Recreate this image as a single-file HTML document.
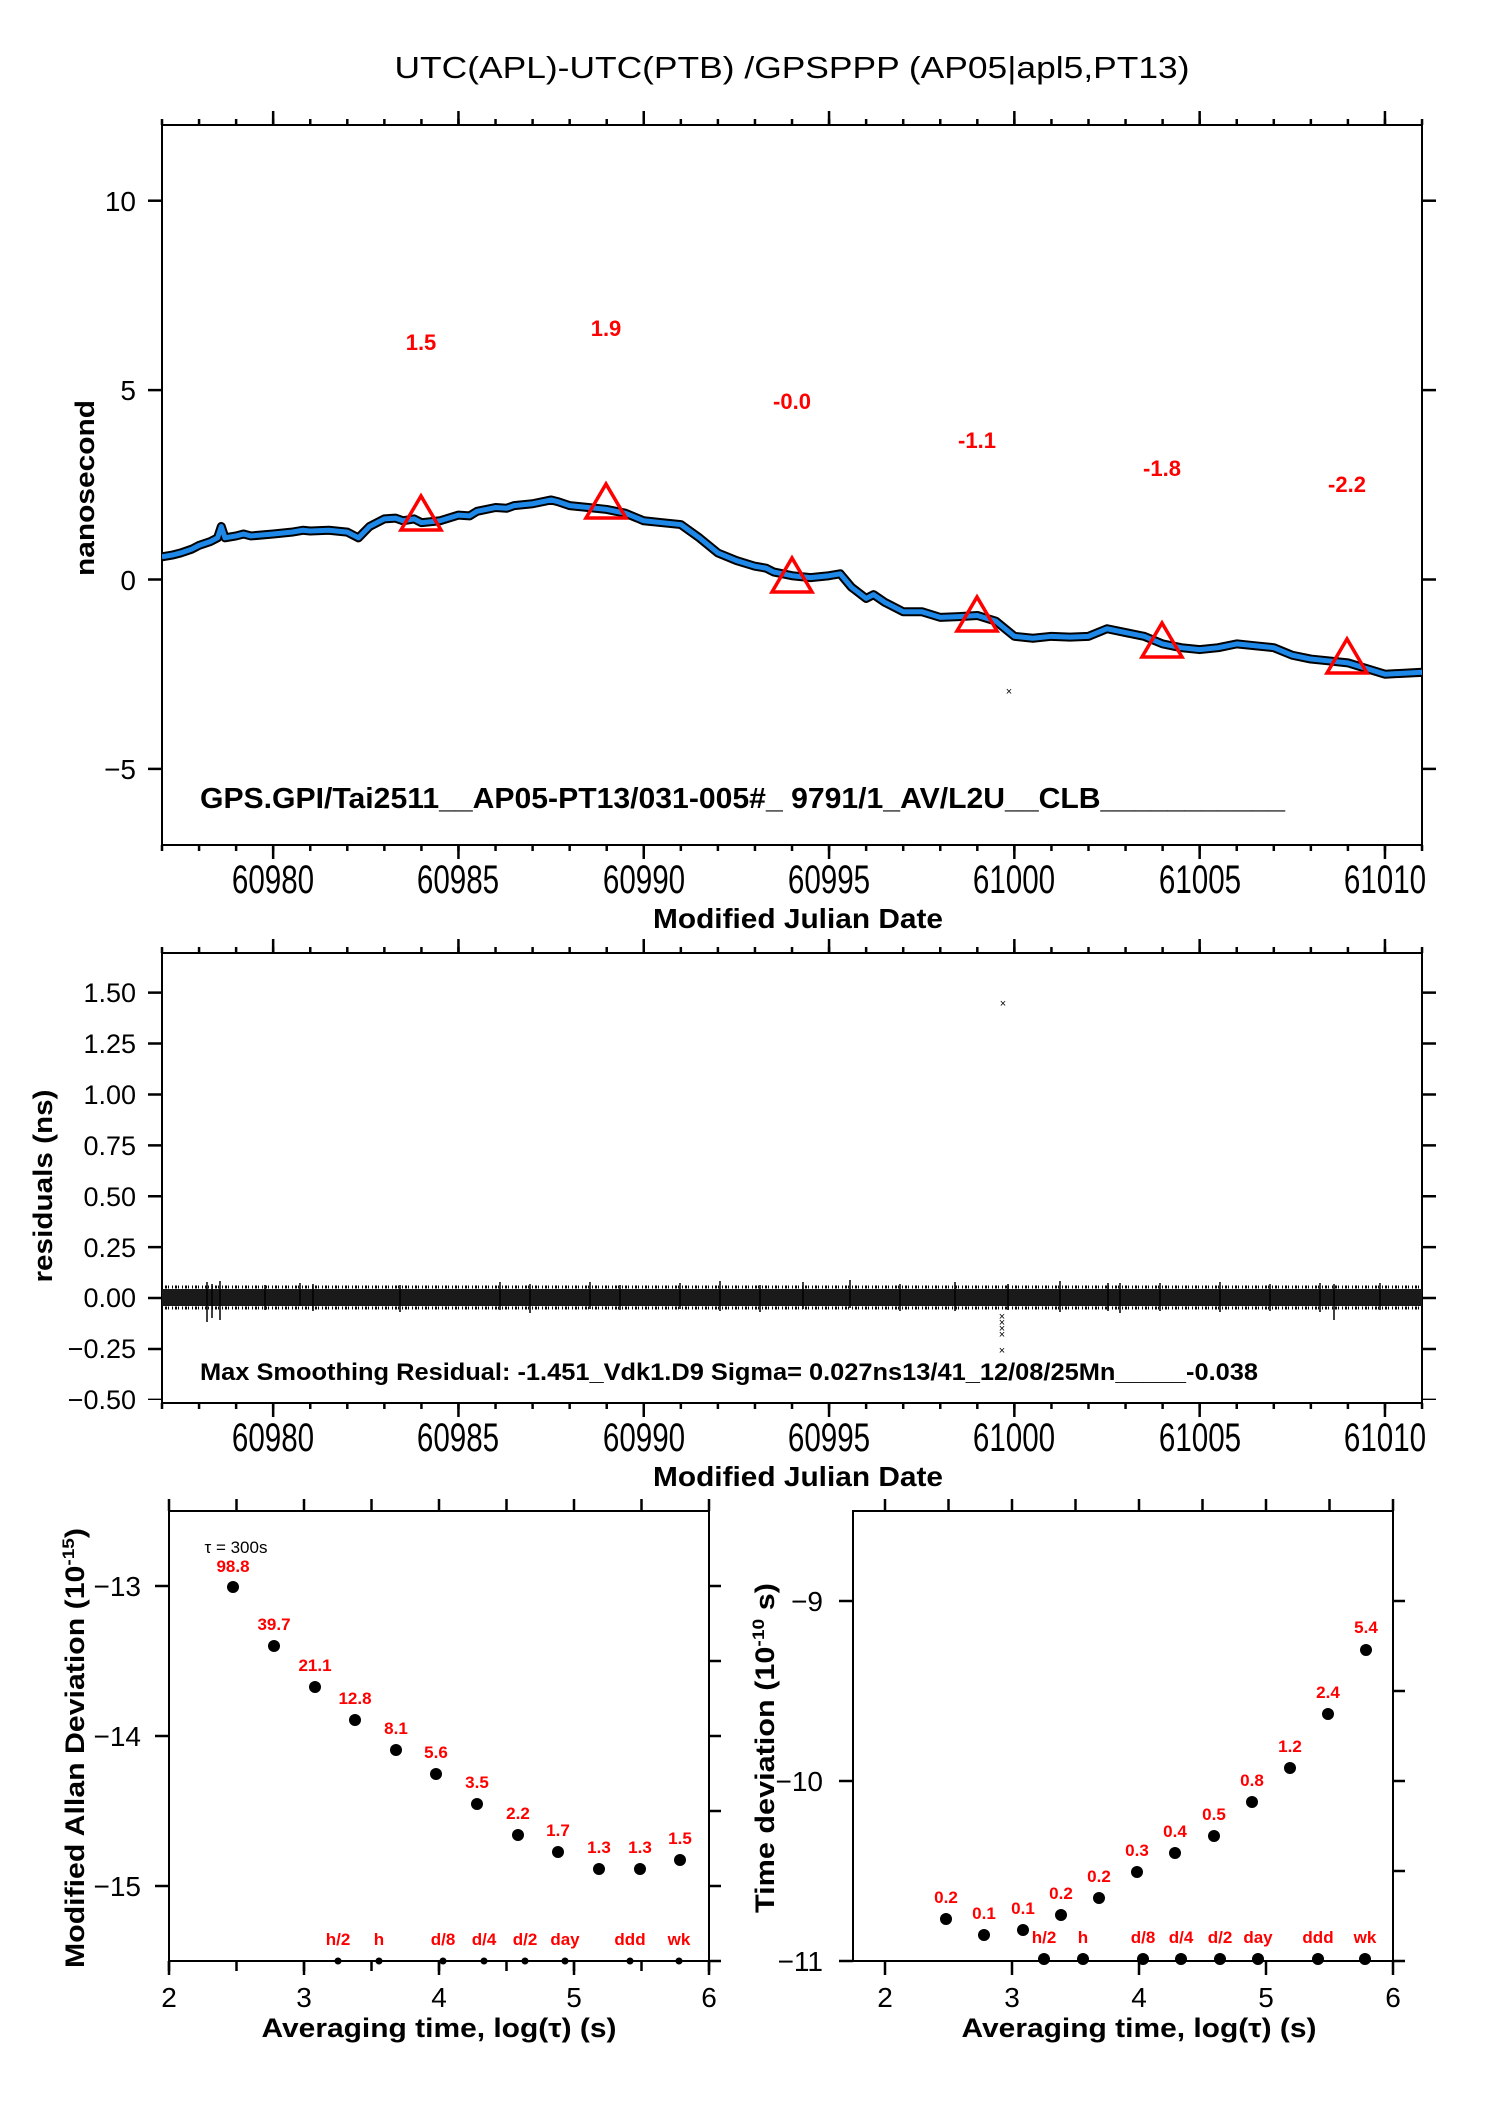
<!DOCTYPE html>
<html><head><meta charset="utf-8"><style>
html,body{margin:0;padding:0;background:#fff}
svg{display:block}
text{font-family:"Liberation Sans",sans-serif}
.b{font-weight:bold}
.r{fill:#ff0000;font-weight:bold}
</style></head><body>
<svg width="1488" height="2105" viewBox="0 0 1488 2105" xmlns="http://www.w3.org/2000/svg">
<rect width="1488" height="2105" fill="#fff"/>

<text x="792" y="78" font-size="31" text-anchor="middle" textLength="795" lengthAdjust="spacingAndGlyphs">UTC(APL)-UTC(PTB)  /GPSPPP  (AP05|apl5,PT13)</text>

<defs>
<clipPath id="c1"><rect x="162" y="125" width="1260" height="720"/></clipPath>
<clipPath id="c2"><rect x="162" y="953" width="1260" height="450"/></clipPath>
</defs>
<rect x="162" y="125" width="1260" height="720" fill="none" stroke="#000" stroke-width="2"/>
<line x1="160.75" y1="122" x2="1424" y2="122" stroke="#000" stroke-width="6" stroke-dasharray="2.5 34.56"/>
<line x1="271.9" y1="118" x2="1424" y2="118" stroke="#000" stroke-width="14" stroke-dasharray="2.5 182.8"/>
<line x1="160.75" y1="848" x2="1424" y2="848" stroke="#000" stroke-width="6" stroke-dasharray="2.5 34.56"/>
<line x1="271.9" y1="852" x2="1424" y2="852" stroke="#000" stroke-width="14" stroke-dasharray="2.5 182.8"/>
<g stroke="#000" stroke-width="2.5">
<line x1="148" y1="200.7" x2="162" y2="200.7"/><line x1="148" y1="390.1" x2="162" y2="390.1"/>
<line x1="148" y1="579.5" x2="162" y2="579.5"/><line x1="148" y1="768.9" x2="162" y2="768.9"/>
<line x1="1422" y1="200.7" x2="1436" y2="200.7"/><line x1="1422" y1="390.1" x2="1436" y2="390.1"/>
<line x1="1422" y1="579.5" x2="1436" y2="579.5"/><line x1="1422" y1="768.9" x2="1436" y2="768.9"/>
</g>
<g font-size="28" text-anchor="end">
<text x="136" y="211">10</text><text x="136" y="400">5</text>
<text x="136" y="590">0</text><text x="136" y="779">−5</text>
</g>
<g font-size="40" text-anchor="middle">
<text transform="translate(273,893) scale(0.74,1)">60980</text>
<text transform="translate(458,893) scale(0.74,1)">60985</text>
<text transform="translate(644,893) scale(0.74,1)">60990</text>
<text transform="translate(829,893) scale(0.74,1)">60995</text>
<text transform="translate(1014,893) scale(0.74,1)">61000</text>
<text transform="translate(1200,893) scale(0.74,1)">61005</text>
<text transform="translate(1385,893) scale(0.74,1)">61010</text>
</g>
<text x="798" y="928" font-size="28" class="b" text-anchor="middle" textLength="290" lengthAdjust="spacingAndGlyphs">Modified Julian Date</text>
<text transform="translate(94,488) rotate(-90)" font-size="27" class="b" text-anchor="middle" textLength="176" lengthAdjust="spacingAndGlyphs">nanosecond</text>

<g clip-path="url(#c1)">
<g transform="translate(162,579.5) scale(37.06,-37.88)" fill="none" stroke-linejoin="round">
<polyline vector-effect="non-scaling-stroke" stroke="#000" stroke-width="9" points="0,0.6 0.3,0.65 0.5,0.7 0.8,0.8 1,0.9 1.3,1.0 1.5,1.1 1.6,1.4 1.7,1.1 2,1.15 2.2,1.2 2.4,1.15 3,1.2 3.5,1.25 3.8,1.3 4,1.28 4.5,1.3 5,1.25 5.3,1.1 5.6,1.4 6,1.6 6.3,1.62 6.5,1.55 6.8,1.6 7,1.5 7.5,1.55 8,1.7 8.3,1.68 8.5,1.8 9,1.9 9.3,1.88 9.5,1.95 10,2.0 10.5,2.1 10.7,2.05 11,1.95 11.5,1.9 12,1.85 12.5,1.75 13,1.55 13.5,1.5 14,1.45 14.5,1.1 15,0.7 15.5,0.5 16,0.35 16.3,0.3 16.5,0.2 17,0.1 17.5,0.05 18,0.1 18.3,0.15 18.6,-0.2 19,-0.5 19.2,-0.4 19.5,-0.6 20,-0.85 20.5,-0.85 21,-1.0 21.5,-0.98 22,-0.95 22.5,-1.1 23,-1.5 23.5,-1.55 24,-1.5 24.5,-1.52 25,-1.5 25.5,-1.3 26,-1.4 26.5,-1.5 27,-1.7 27.5,-1.8 28,-1.85 28.5,-1.8 29,-1.7 29.5,-1.75 30,-1.8 30.5,-2.0 31,-2.1 31.5,-2.15 32,-2.2 32.5,-2.35 33,-2.5 34,-2.45"/>
<polyline vector-effect="non-scaling-stroke" stroke="#1e88e8" stroke-width="5" points="0,0.6 0.3,0.65 0.5,0.7 0.8,0.8 1,0.9 1.3,1.0 1.5,1.1 1.6,1.4 1.7,1.1 2,1.15 2.2,1.2 2.4,1.15 3,1.2 3.5,1.25 3.8,1.3 4,1.28 4.5,1.3 5,1.25 5.3,1.1 5.6,1.4 6,1.6 6.3,1.62 6.5,1.55 6.8,1.6 7,1.5 7.5,1.55 8,1.7 8.3,1.68 8.5,1.8 9,1.9 9.3,1.88 9.5,1.95 10,2.0 10.5,2.1 10.7,2.05 11,1.95 11.5,1.9 12,1.85 12.5,1.75 13,1.55 13.5,1.5 14,1.45 14.5,1.1 15,0.7 15.5,0.5 16,0.35 16.3,0.3 16.5,0.2 17,0.1 17.5,0.05 18,0.1 18.3,0.15 18.6,-0.2 19,-0.5 19.2,-0.4 19.5,-0.6 20,-0.85 20.5,-0.85 21,-1.0 21.5,-0.98 22,-0.95 22.5,-1.1 23,-1.5 23.5,-1.55 24,-1.5 24.5,-1.52 25,-1.5 25.5,-1.3 26,-1.4 26.5,-1.5 27,-1.7 27.5,-1.8 28,-1.85 28.5,-1.8 29,-1.7 29.5,-1.75 30,-1.8 30.5,-2.0 31,-2.1 31.5,-2.15 32,-2.2 32.5,-2.35 33,-2.5 34,-2.45"/>
</g>
</g>
<text x="1009" y="695" font-size="11" text-anchor="middle">×</text>
<g fill="none" stroke="#ff0000" stroke-width="3.5">
<polygon points="401,530 441,530 421,496"/>
<polygon points="586,518 626,518 606,484"/>
<polygon points="772,592 812,592 792,558"/>
<polygon points="957,631 997,631 977,597"/>
<polygon points="1142,657 1182,657 1162,623"/>
<polygon points="1327,673 1367,673 1347,639"/>
</g>
<g font-size="22" class="r" text-anchor="middle">
<text x="421" y="350">1.5</text><text x="606" y="336">1.9</text>
<text x="792" y="409">-0.0</text><text x="977" y="448">-1.1</text>
<text x="1162" y="476">-1.8</text><text x="1347" y="492">-2.2</text>
</g>
<text x="200" y="808" font-size="29" class="b" textLength="1085" lengthAdjust="spacingAndGlyphs">GPS.GPI/Tai2511__AP05-PT13/031-005#_  9791/1_AV/L2U__CLB___________</text>

<rect x="162" y="953" width="1260" height="450" fill="none" stroke="#000" stroke-width="2"/>
<line x1="160.75" y1="950" x2="1424" y2="950" stroke="#000" stroke-width="6" stroke-dasharray="2.5 34.56"/>
<line x1="271.9" y1="946" x2="1424" y2="946" stroke="#000" stroke-width="14" stroke-dasharray="2.5 182.8"/>
<line x1="160.75" y1="1406" x2="1424" y2="1406" stroke="#000" stroke-width="6" stroke-dasharray="2.5 34.56"/>
<line x1="271.9" y1="1410" x2="1424" y2="1410" stroke="#000" stroke-width="14" stroke-dasharray="2.5 182.8"/>
<line x1="155" y1="991.4" x2="155" y2="1400" stroke="#000" stroke-width="14" stroke-dasharray="2.5 48.4"/>
<line x1="1429" y1="991.4" x2="1429" y2="1400" stroke="#000" stroke-width="14" stroke-dasharray="2.5 48.4"/>
<g font-size="27" text-anchor="end">
<text x="136" y="1002">1.50</text><text x="136" y="1053">1.25</text><text x="136" y="1104">1.00</text>
<text x="136" y="1155">0.75</text><text x="136" y="1206">0.50</text><text x="136" y="1257">0.25</text>
<text x="136" y="1307">0.00</text><text x="136" y="1358">−0.25</text><text x="136" y="1409">−0.50</text>
</g>
<g font-size="40" text-anchor="middle">
<text transform="translate(273,1451) scale(0.74,1)">60980</text>
<text transform="translate(458,1451) scale(0.74,1)">60985</text>
<text transform="translate(644,1451) scale(0.74,1)">60990</text>
<text transform="translate(829,1451) scale(0.74,1)">60995</text>
<text transform="translate(1014,1451) scale(0.74,1)">61000</text>
<text transform="translate(1200,1451) scale(0.74,1)">61005</text>
<text transform="translate(1385,1451) scale(0.74,1)">61010</text>
</g>
<text x="798" y="1486" font-size="28" class="b" text-anchor="middle" textLength="290" lengthAdjust="spacingAndGlyphs">Modified Julian Date</text>
<text transform="translate(52,1186) rotate(-90)" font-size="27" class="b" text-anchor="middle" textLength="193" lengthAdjust="spacingAndGlyphs">residuals (ns)</text>
<g clip-path="url(#c2)">
<rect x="162" y="1289" width="1260" height="17" fill="#1a1a1a"/>
<path d="M162,1287H1422M162,1308H1422" stroke="#000" stroke-width="3" stroke-dasharray="1 2 2 1 1 3" fill="none"/>
<g stroke="#000" stroke-width="1.5">
<path d="M207,1282V1322M212,1284V1318M220,1281V1320M265,1285V1310M300,1283V1306M313,1284V1311M400,1285V1312M500,1282V1310M530,1284V1313M590,1282V1309M620,1285V1310M680,1283V1309M720,1281V1311M760,1285V1312M803,1282V1309M850,1280V1308M900,1284V1311M955,1282V1311M1008,1284V1310M1060,1281V1312M1108,1283V1311M1120,1283V1313M1160,1283V1311M1220,1282V1312M1270,1284V1311M1320,1283V1312M1334,1284V1320M1380,1283V1310"/>
</g>
</g>
<g font-size="11" text-anchor="middle">
<text x="1003" y="1007">×</text><text x="1002" y="1320">×</text><text x="1002" y="1326">×</text>
<text x="1002" y="1332">×</text><text x="1002" y="1338">×</text><text x="1002" y="1354">×</text>
</g>
<text x="200" y="1380" font-size="24" class="b" textLength="1058" lengthAdjust="spacingAndGlyphs">Max Smoothing Residual: -1.451_Vdk1.D9  Sigma= 0.027ns13/41_12/08/25Mn_____-0.038</text>

<rect x="169" y="1511" width="540" height="450" fill="none" stroke="#000" stroke-width="2"/>
<line x1="167.75" y1="1505" x2="712" y2="1505" stroke="#000" stroke-width="12" stroke-dasharray="2.5 65"/>
<line x1="167.75" y1="1966" x2="712" y2="1966" stroke="#000" stroke-width="10" stroke-dasharray="2.5 65"/>
<line x1="167.75" y1="1968" x2="712" y2="1968" stroke="#000" stroke-width="14" stroke-dasharray="2.5 132.5"/>
<line x1="715" y1="1584.75" x2="715" y2="1963" stroke="#000" stroke-width="12" stroke-dasharray="2.5 72.5"/>
<g stroke="#000" stroke-width="2.5">
<line x1="155" y1="1586" x2="169" y2="1586"/><line x1="155" y1="1736" x2="169" y2="1736"/><line x1="155" y1="1886" x2="169" y2="1886"/>
</g>
<g font-size="28" text-anchor="end">
<text x="141" y="1596">−13</text><text x="141" y="1746">−14</text><text x="141" y="1896">−15</text>
</g>
<g font-size="28" text-anchor="middle">
<text x="169" y="2007">2</text><text x="304" y="2007">3</text><text x="439" y="2007">4</text><text x="574" y="2007">5</text><text x="709" y="2007">6</text>
</g>
<text x="439" y="2037" font-size="27" class="b" text-anchor="middle" textLength="355" lengthAdjust="spacingAndGlyphs">Averaging time, log(τ) (s)</text>
<text transform="translate(84,1748) rotate(-90)" font-size="27" class="b" text-anchor="middle" textLength="440" lengthAdjust="spacingAndGlyphs">Modified Allan Deviation (10<tspan font-size="17" dy="-10">-15</tspan><tspan dy="10">)</tspan></text>
<text x="236" y="1553" font-size="17" text-anchor="middle">τ = 300s</text>
<g fill="#000">
<circle cx="233" cy="1587" r="6"/><circle cx="274" cy="1646" r="6"/><circle cx="315" cy="1687" r="6"/>
<circle cx="355" cy="1720" r="6"/><circle cx="396" cy="1750" r="6"/><circle cx="436" cy="1774" r="6"/>
<circle cx="477" cy="1804" r="6"/><circle cx="518" cy="1835" r="6"/><circle cx="558" cy="1852" r="6"/>
<circle cx="599" cy="1869" r="6"/><circle cx="640" cy="1869" r="6"/><circle cx="680" cy="1860" r="6"/>
<circle cx="338" cy="1961" r="3.5"/><circle cx="379" cy="1961" r="3.5"/><circle cx="443" cy="1961" r="3.5"/><circle cx="484" cy="1961" r="3.5"/>
<circle cx="525" cy="1961" r="3.5"/><circle cx="565" cy="1961" r="3.5"/><circle cx="630" cy="1961" r="3.5"/><circle cx="679" cy="1961" r="3.5"/>
</g>
<g font-size="17" class="r" text-anchor="middle">
<text x="233" y="1572">98.8</text><text x="274" y="1630">39.7</text><text x="315" y="1671">21.1</text>
<text x="355" y="1704">12.8</text><text x="396" y="1734">8.1</text><text x="436" y="1758">5.6</text>
<text x="477" y="1788">3.5</text><text x="518" y="1819">2.2</text><text x="558" y="1836">1.7</text>
<text x="599" y="1853">1.3</text><text x="640" y="1853">1.3</text><text x="680" y="1844">1.5</text>
<text x="338" y="1945">h/2</text><text x="379" y="1945">h</text><text x="443" y="1945">d/8</text><text x="484" y="1945">d/4</text>
<text x="525" y="1945">d/2</text><text x="565" y="1945">day</text><text x="630" y="1945">ddd</text><text x="679" y="1945">wk</text>
</g>

<rect x="853" y="1511" width="540" height="450" fill="none" stroke="#000" stroke-width="2"/>
<line x1="883.75" y1="1505" x2="1396" y2="1505" stroke="#000" stroke-width="12" stroke-dasharray="2.5 61"/>
<line x1="883.75" y1="1968" x2="1396" y2="1968" stroke="#000" stroke-width="14" stroke-dasharray="2.5 124.5"/>
<line x1="1399" y1="1599.75" x2="1399" y2="1963" stroke="#000" stroke-width="12" stroke-dasharray="2.5 87.5"/>
<g stroke="#000" stroke-width="2.5">
<line x1="839" y1="1601" x2="853" y2="1601"/><line x1="839" y1="1781" x2="853" y2="1781"/><line x1="839" y1="1961" x2="853" y2="1961"/>
</g>
<g font-size="28" text-anchor="end">
<text x="823" y="1611">−9</text><text x="823" y="1791">−10</text><text x="823" y="1971">−11</text>
</g>
<g font-size="28" text-anchor="middle">
<text x="885" y="2007">2</text><text x="1012" y="2007">3</text><text x="1139" y="2007">4</text><text x="1266" y="2007">5</text><text x="1393" y="2007">6</text>
</g>
<text x="1139" y="2037" font-size="27" class="b" text-anchor="middle" textLength="355" lengthAdjust="spacingAndGlyphs">Averaging time, log(τ) (s)</text>
<text transform="translate(774,1748) rotate(-90)" font-size="27" class="b" text-anchor="middle" textLength="330" lengthAdjust="spacingAndGlyphs">Time deviation (10<tspan font-size="17" dy="-10">-10</tspan><tspan dy="10"> s)</tspan></text>
<g fill="#000">
<circle cx="946" cy="1919" r="6"/><circle cx="984" cy="1935" r="6"/><circle cx="1023" cy="1930" r="6"/>
<circle cx="1061" cy="1915" r="6"/><circle cx="1099" cy="1898" r="6"/><circle cx="1137" cy="1872" r="6"/>
<circle cx="1175" cy="1853" r="6"/><circle cx="1214" cy="1836" r="6"/><circle cx="1252" cy="1802" r="6"/>
<circle cx="1290" cy="1768" r="6"/><circle cx="1328" cy="1714" r="6"/><circle cx="1366" cy="1650" r="6"/>
<circle cx="1044" cy="1959" r="6"/><circle cx="1083" cy="1959" r="6"/><circle cx="1143" cy="1959" r="6"/><circle cx="1181" cy="1959" r="6"/>
<circle cx="1220" cy="1959" r="6"/><circle cx="1258" cy="1959" r="6"/><circle cx="1318" cy="1959" r="6"/><circle cx="1365" cy="1959" r="6"/>
</g>
<g font-size="17" class="r" text-anchor="middle">
<text x="946" y="1903">0.2</text><text x="984" y="1919">0.1</text><text x="1023" y="1914">0.1</text>
<text x="1061" y="1899">0.2</text><text x="1099" y="1882">0.2</text><text x="1137" y="1856">0.3</text>
<text x="1175" y="1837">0.4</text><text x="1214" y="1820">0.5</text><text x="1252" y="1786">0.8</text>
<text x="1290" y="1752">1.2</text><text x="1328" y="1698">2.4</text><text x="1366" y="1633">5.4</text>
<text x="1044" y="1943">h/2</text><text x="1083" y="1943">h</text><text x="1143" y="1943">d/8</text><text x="1181" y="1943">d/4</text>
<text x="1220" y="1943">d/2</text><text x="1258" y="1943">day</text><text x="1318" y="1943">ddd</text><text x="1365" y="1943">wk</text>
</g>
</svg>
</body></html>
